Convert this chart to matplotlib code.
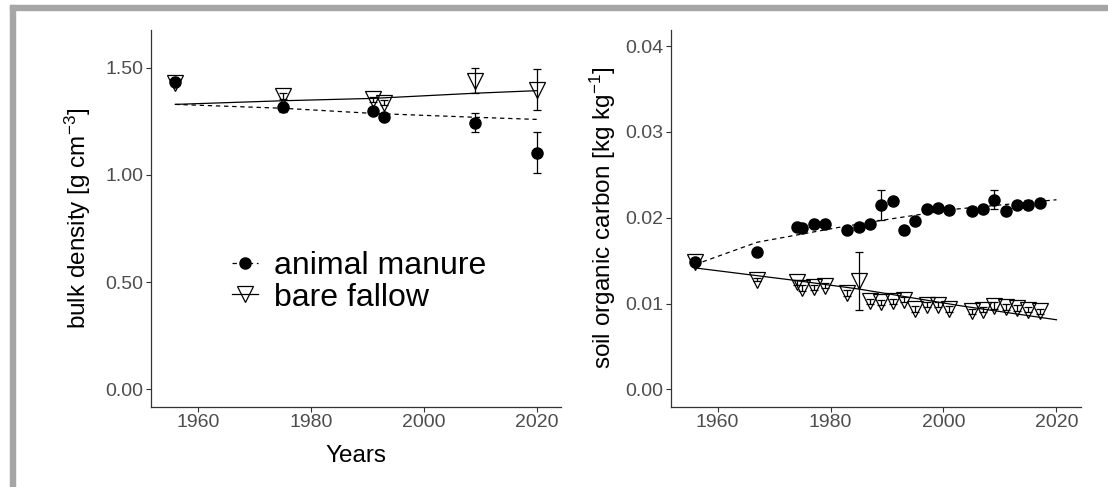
import matplotlib
matplotlib.use("Agg")
import matplotlib.pyplot as plt
from matplotlib.lines import Line2D
from matplotlib.patches import Rectangle

# bulk density panel
bd_manure_years = [1956, 1975, 1991, 1993, 2009, 2020]
bd_manure = [1.435, 1.315, 1.300, 1.271, 1.243, 1.104]
bd_manure_err = [0.012, 0.020, 0.012, 0.012, 0.045, 0.095]
bd_fallow_years = [1956, 1975, 1991, 1993, 2009, 2020]
bd_fallow = [1.430, 1.369, 1.352, 1.337, 1.439, 1.398]
bd_fallow_err = [0.012, 0.015, 0.012, 0.012, 0.058, 0.095]
bd_trend_years = [1956, 1975, 1991, 2009, 2020]
bd_manure_trend = [1.329, 1.311, 1.287, 1.269, 1.259]
bd_fallow_trend = [1.329, 1.346, 1.357, 1.381, 1.393]

# soil organic carbon panel
soc_manure_years = [1956, 1967, 1974, 1975, 1977, 1979, 1983, 1985, 1987, 1989, 1991,
                    1993, 1995, 1997, 1999, 2001, 2005, 2007, 2009, 2011, 2013, 2015, 2017]
soc_manure = [0.01486, 0.01598, 0.01895, 0.01879, 0.01922, 0.01922, 0.01863, 0.01895,
              0.01922, 0.02147, 0.02194, 0.01852, 0.01957, 0.02097, 0.02112, 0.02085,
              0.02074, 0.02097, 0.02210, 0.02074, 0.02144, 0.02152, 0.02175]
soc_manure_err = [0.0003, 0.0002, 0.0003, 0.0002, 0.0003, 0.0003, 0.0002, 0.0002,
                  0.0002, 0.00175, 0.0003, 0.0004, 0.0002, 0.0002, 0.0002, 0.0002,
                  0.0002, 0.0002, 0.0011, 0.0002, 0.0003, 0.0005, 0.0004]
soc_fallow_years = [1956, 1967, 1974, 1975, 1977, 1979, 1983, 1985, 1987, 1989, 1991,
                    1993, 1995, 1997, 1999, 2001, 2005, 2007, 2009, 2011, 2013, 2015, 2017]
soc_fallow = [0.01481, 0.01279, 0.01248, 0.01182, 0.01189, 0.01209, 0.01124, 0.01260,
              0.01026, 0.01014, 0.01026, 0.01046, 0.00937, 0.00987, 0.00987, 0.00937,
              0.00909, 0.00929, 0.00975, 0.00960, 0.00949, 0.00929, 0.00909]
soc_fallow_err = [0.0002, 0.0002, 0.0003, 0.0003, 0.0003, 0.0003, 0.0003, 0.0034,
                  0.0003, 0.0003, 0.0003, 0.0003, 0.0003, 0.0003, 0.0003, 0.0003,
                  0.0003, 0.0003, 0.0004, 0.0003, 0.0003, 0.0003, 0.0003]
soc_manure_trend_years = [1956, 1967, 1981, 1990, 2002, 2020]
soc_manure_trend = [0.01455, 0.01715, 0.01883, 0.0198, 0.0210, 0.0221]
soc_fallow_trend_years = [1956, 1974, 1985, 2003, 2020]
soc_fallow_trend = [0.01416, 0.01268, 0.0117, 0.00975, 0.00812]

x_ticks = [1960, 1980, 2000, 2020]
bd_ticks = [0.0, 0.5, 1.0, 1.5]
soc_ticks = [0.00, 0.01, 0.02, 0.03, 0.04]

TICK_COLOR = "#4d4d4d"
DASH = (0, (3.5, 3))


def style_axis(ax):
    for side in ["top", "right"]:
        ax.spines[side].set_visible(False)
    for side in ["left", "bottom"]:
        ax.spines[side].set_linewidth(0.9)
        ax.spines[side].set_color("#333333")
    ax.tick_params(axis="both", labelsize=14, labelcolor=TICK_COLOR,
                   color="#333333", length=3.5, width=0.8, pad=2)
    ax.set_xlim(1951.7, 2024.3)
    ax.set_xticks(x_ticks)


def draw_series(ax, years, values, errs, filled, ms):
    if filled:
        ax.errorbar(years, values, yerr=errs, fmt="o", color="black", ms=ms,
                    ecolor="black", elinewidth=0.9, capsize=3, capthick=0.9, zorder=3)
    else:
        ax.errorbar(years, values, yerr=errs, fmt="v", mfc="none", mec="black",
                    mew=0.9, ms=ms, ecolor="black", elinewidth=0.9, capsize=3,
                    capthick=0.9, zorder=2)


def main():
    plt.rcParams["font.family"] = ["Liberation Sans", "DejaVu Sans"]
    plt.rcParams["mathtext.fontset"] = "custom"
    plt.rcParams["mathtext.rm"] = "Liberation Sans"
    plt.rcParams["mathtext.it"] = "Liberation Sans:italic"

    fig = plt.figure(figsize=(11.08, 4.87), dpi=100)
    fig.patches.append(Rectangle((10 / 1108, 0), 5 / 1108, 482 / 487,
                                 transform=fig.transFigure, color="#a6a6a6", zorder=0))
    fig.patches.append(Rectangle((10 / 1108, 477 / 487), 1098 / 1108, 5 / 487,
                                 transform=fig.transFigure, color="#a6a6a6", zorder=0))

    ax1 = fig.add_axes([0.1363, 0.1649, 0.370, 0.7735])
    ax2 = fig.add_axes([0.6053, 0.1649, 0.3701, 0.7735])

    # bulk density
    style_axis(ax1)
    ax1.plot(bd_trend_years, bd_fallow_trend, color="black", lw=0.9, zorder=1)
    ax1.plot(bd_trend_years, bd_manure_trend, color="black", lw=0.9, ls=DASH, zorder=1)
    draw_series(ax1, bd_manure_years, bd_manure, bd_manure_err, True, 8)
    draw_series(ax1, bd_fallow_years, bd_fallow, bd_fallow_err, False, 12)
    ax1.set_ylim(-0.081, 1.676)
    ax1.set_yticks(bd_ticks)
    ax1.set_yticklabels(["%.2f" % t for t in bd_ticks])
    ax1.set_xlabel("Years", fontsize=17.5, labelpad=10)
    ax1.set_ylabel("bulk density [g cm$^{-3}$]", fontsize=17.5, labelpad=9)

    handles = [Line2D([], [], color="black", lw=0.9, ls=DASH, marker="o", ms=8),
               Line2D([], [], color="black", lw=0.9, marker="v", ms=12,
                      mfc="none", mec="black", mew=0.9)]
    ax1.legend(handles, ["animal manure", "bare fallow"], loc="center left",
               bbox_to_anchor=(216 / 1108, 1 - 282 / 487),
               bbox_transform=fig.transFigure, frameon=False, fontsize=23,
               handlelength=0.8, handletextpad=0.5, labelspacing=0.04, borderpad=0)

    # soil organic carbon
    style_axis(ax2)
    ax2.plot(soc_fallow_trend_years, soc_fallow_trend, color="black", lw=0.9, zorder=1)
    ax2.plot(soc_manure_trend_years, soc_manure_trend, color="black", lw=0.9, ls=DASH, zorder=1)
    draw_series(ax2, soc_manure_years, soc_manure, soc_manure_err, True, 8)
    draw_series(ax2, soc_fallow_years, soc_fallow, soc_fallow_err, False, 11)
    ax2.set_ylim(-0.00201, 0.04188)
    ax2.set_yticks(soc_ticks)
    ax2.set_yticklabels(["%.2f" % t for t in soc_ticks])
    ax2.set_ylabel("soil organic carbon [kg kg$^{-1}$]", fontsize=17.5, labelpad=5)

    fig.savefig("out.png", dpi=100)


if __name__ == "__main__":
    main()
